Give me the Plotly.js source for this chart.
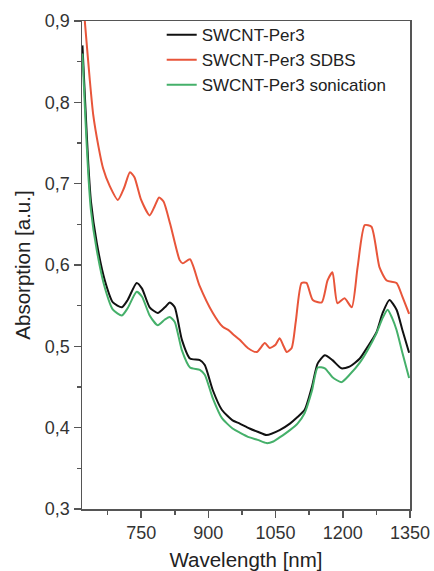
<!DOCTYPE html>
<html>
<head>
<meta charset="utf-8">
<script src="https://cdn.plot.ly/plotly-3.0.1.min.js"></script>
<style>html,body{margin:0;padding:0;background:#fff;}#chart{width:434px;height:571px;}</style>
</head>
<body>
<div id="chart"></div>
<script>
// Series names
const seriesNames = ["SWCNT-Per3", "SWCNT-Per3 SDBS", "SWCNT-Per3 sonication"];

// SWCNT-Per3 (black)
const blackWl = [619, 626, 632, 638, 651, 669, 687, 707, 720, 740, 752, 769, 787, 803, 814, 825, 841, 859, 881, 892, 910, 930, 954, 970, 992, 1010, 1030, 1059, 1082, 1099, 1115, 1131, 1144, 1160, 1177, 1197, 1215, 1238, 1255, 1275, 1289, 1304, 1320, 1333, 1348];
const blackAbs = [0.870, 0.790, 0.725, 0.678, 0.627, 0.581, 0.554, 0.548, 0.557, 0.578, 0.571, 0.548, 0.541, 0.548, 0.554, 0.548, 0.508, 0.485, 0.483, 0.477, 0.446, 0.422, 0.409, 0.405, 0.399, 0.395, 0.391, 0.397, 0.405, 0.413, 0.422, 0.450, 0.479, 0.489, 0.483, 0.473, 0.475, 0.485, 0.499, 0.517, 0.541, 0.557, 0.545, 0.520, 0.492];

// SWCNT-Per3 SDBS (red)
const redWl = [620, 625, 635, 643, 655, 665, 680, 698, 712, 725, 735, 750, 769, 780, 790, 800, 815, 836, 843, 859, 880, 910, 932, 945, 955, 970, 988, 1008, 1026, 1037, 1050, 1059, 1068, 1075, 1086, 1095, 1108, 1119, 1133, 1153, 1166, 1177, 1188, 1204, 1220, 1233, 1249, 1264, 1282, 1298, 1320, 1333, 1348];
const redAbs = [0.930, 0.895, 0.830, 0.785, 0.745, 0.719, 0.697, 0.680, 0.695, 0.714, 0.708, 0.680, 0.661, 0.672, 0.683, 0.678, 0.650, 0.606, 0.602, 0.607, 0.575, 0.541, 0.524, 0.520, 0.515, 0.508, 0.498, 0.493, 0.504, 0.498, 0.502, 0.510, 0.500, 0.493, 0.498, 0.530, 0.578, 0.578, 0.557, 0.554, 0.581, 0.591, 0.553, 0.559, 0.548, 0.597, 0.649, 0.647, 0.597, 0.581, 0.578, 0.561, 0.540];

// SWCNT-Per3 sonication (green)
const greenWl = [619, 626, 632, 638, 651, 669, 687, 707, 720, 740, 752, 769, 787, 803, 814, 825, 841, 859, 881, 892, 910, 930, 954, 970, 992, 1010, 1030, 1045, 1059, 1082, 1099, 1115, 1131, 1144, 1160, 1177, 1197, 1215, 1238, 1255, 1275, 1289, 1300, 1310, 1320, 1333, 1348];
const greenAbs = [0.860, 0.775, 0.712, 0.667, 0.618, 0.572, 0.545, 0.538, 0.547, 0.567, 0.561, 0.538, 0.526, 0.533, 0.536, 0.530, 0.495, 0.474, 0.471, 0.465, 0.436, 0.412, 0.399, 0.394, 0.388, 0.385, 0.381, 0.383, 0.388, 0.397, 0.405, 0.418, 0.445, 0.474, 0.473, 0.462, 0.456, 0.465, 0.480, 0.495, 0.516, 0.535, 0.545, 0.535, 0.520, 0.492, 0.461];

// Axis ticks
const xTickVals = [750, 900, 1050, 1200, 1350];
const yTickVals = [0.3, 0.4, 0.5, 0.6, 0.7, 0.8, 0.9];

const lineShape = {shape: 'spline', smoothing: 0.6, width: 2};
const fontFam = 'Liberation Sans, Arial, sans-serif';

const traces = [
  {x: blackWl, y: blackAbs, name: seriesNames[0], mode: 'lines', line: Object.assign({color: '#111111'}, lineShape)},
  {x: redWl, y: redAbs, name: seriesNames[1], mode: 'lines', line: Object.assign({color: '#e8553a'}, lineShape)},
  {x: greenWl, y: greenAbs, name: seriesNames[2], mode: 'lines', line: Object.assign({color: '#45b06a'}, lineShape)}
];

const axisCommon = {
  showline: true, linecolor: '#555', linewidth: 1.5, mirror: true,
  ticks: 'outside', ticklen: 7, tickwidth: 1.5, tickcolor: '#555',
  showgrid: false, zeroline: false,
  tickfont: {family: fontFam, size: 18, color: '#333'}
};

const layout = {
  width: 434, height: 571,
  margin: {l: 82, r: 24, t: 21, b: 62},
  paper_bgcolor: '#fff', plot_bgcolor: '#fff',
  separators: ',.',
  showlegend: true,
  legend: {
    x: 0.243, y: 1.008, xanchor: 'left', yanchor: 'top',
    bgcolor: 'rgba(0,0,0,0)', borderwidth: 0,
    font: {family: fontFam, size: 17, color: '#222'},
    tracegroupgap: 0
  },
  xaxis: Object.assign({}, axisCommon, {
    range: [618, 1350], tickvals: xTickVals,
    minor: {dtick: 75, tick0: 675, ticks: 'outside', ticklen: 4, tickwidth: 1.5, tickcolor: '#555'},
    title: {text: 'Wavelength [nm]', font: {family: fontFam, size: 20.5, color: '#222'}, standoff: 12}
  }),
  yaxis: Object.assign({}, axisCommon, {
    range: [0.3, 0.9], tickvals: yTickVals, tickformat: '.1f',
    minor: {dtick: 0.05, tick0: 0.35, ticks: 'outside', ticklen: 4, tickwidth: 1.5, tickcolor: '#555'},
    title: {text: 'Absorption [a.u.]', font: {family: fontFam, size: 20.5, color: '#222'}, standoff: 8}
  })
};

Plotly.newPlot('chart', traces, layout, {displayModeBar: false, staticPlot: true});
</script>
</body>
</html>
